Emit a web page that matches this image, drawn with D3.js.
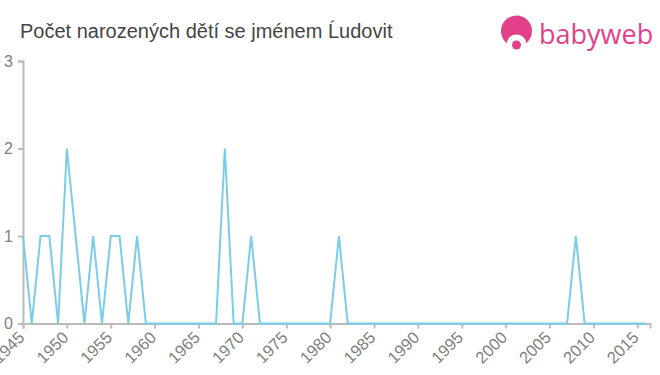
<!DOCTYPE html>
<html>
<head>
<meta charset="utf-8">
<script src="https://cdn.jsdelivr.net/npm/d3@7"></script>
<style>
  body { margin: 0; background: #fff; }
  svg { display: block; font-family: "Liberation Sans", Arial, sans-serif; }
</style>
</head>
<body>
<svg id="chart" width="660" height="375"></svg>
<script>
const years = d3.range(1945, 2017);
const counts = [
  1, 0, 1, 1, 0, 2, 1, 0, 1, 0,   // 1945-1954
  1, 1, 0, 1, 0, 0, 0, 0, 0, 0,   // 1955-1964
  0, 0, 0, 2, 0, 0, 1, 0, 0, 0,   // 1965-1974
  0, 0, 0, 0, 0, 0, 1, 0, 0, 0,   // 1975-1984
  0, 0, 0, 0, 0, 0, 0, 0, 0, 0,   // 1985-1994
  0, 0, 0, 0, 0, 0, 0, 0, 0, 0,   // 1995-2004
  0, 0, 0, 1, 0, 0, 0, 0, 0, 0,   // 2005-2014
  0, 0                            // 2015-2016
];
const yTicks = [0, 1, 2, 3];
const xTicks = d3.range(1945, 2016, 5);
const title = 'Počet narozených dětí se jménem Ĺudovit';

const data = years.map((y, i) => ({ year: y, count: counts[i] }));

let svg = d3.select('#chart');

const margin = { left: 23, right: 650, top: 61, bottom: 323.5 };

let x = d3.scaleLinear()
  .domain([1945, 2016.45])
  .range([margin.left, margin.right]);

let y = d3.scaleLinear()
  .domain([0, 3])
  .range([margin.bottom, margin.top]);

// title
svg.append('text')
  .attr('x', 20)
  .attr('y', 37.5)
  .attr('fill', '#444')
  .style('font-size', '20px')
  .text(title);

// logo
let logo = svg.append('g');
logo.append('circle')
  .attr('cx', 516.5).attr('cy', 31).attr('r', 15.5)
  .attr('fill', '#e2418a');
logo.append('ellipse')
  .attr('cx', 516.5).attr('cy', 43).attr('rx', 9.5).attr('ry', 8.5)
  .attr('fill', '#fff');
logo.append('circle')
  .attr('cx', 516.5).attr('cy', 45).attr('r', 4.5)
  .attr('fill', '#e2418a');
logo.append('text')
  .attr('x', 539)
  .attr('y', 44)
  .attr('fill', '#e2418a')
  .style('font-size', '27px')
  .style('font-family', '"Open Sans", sans-serif')
  .text('babyweb');

// axes
let yAxis = svg.append('g')
  .attr('transform', `translate(${margin.left},0)`)
  .call(d3.axisLeft(y).tickValues(yTicks).tickFormat(d3.format('d')).tickSize(5).tickPadding(5));

let xAxis = svg.append('g')
  .attr('transform', `translate(0,${margin.bottom})`)
  .call(d3.axisBottom(x).tickValues(xTicks).tickFormat(d3.format('d')).tickSize(5).tickPadding(3));

[yAxis, xAxis].forEach(a => {
  a.select('.domain').attr('stroke', '#bbb').attr('stroke-width', 2);
  a.selectAll('.tick line').attr('stroke', '#bbb').attr('stroke-width', 2);
  a.selectAll('.tick text')
    .attr('fill', '#808080')
    .style('font-family', '"Liberation Sans", Arial, sans-serif');
});

yAxis.selectAll('.tick text').style('font-size', '16px');

xAxis.selectAll('.tick text')
  .style('font-size', '16.5px')
  .attr('text-anchor', 'end')
  .attr('y', 0)
  .attr('dy', 0)
  .attr('transform', 'translate(2,15) rotate(-45)');

// line
let line = d3.line()
  .x(d => x(d.year))
  .y(d => y(d.count));

svg.append('path')
  .datum(data)
  .attr('d', line)
  .attr('fill', 'none')
  .attr('stroke', '#79cde9')
  .attr('stroke-width', 2);
</script>
</body>
</html>
